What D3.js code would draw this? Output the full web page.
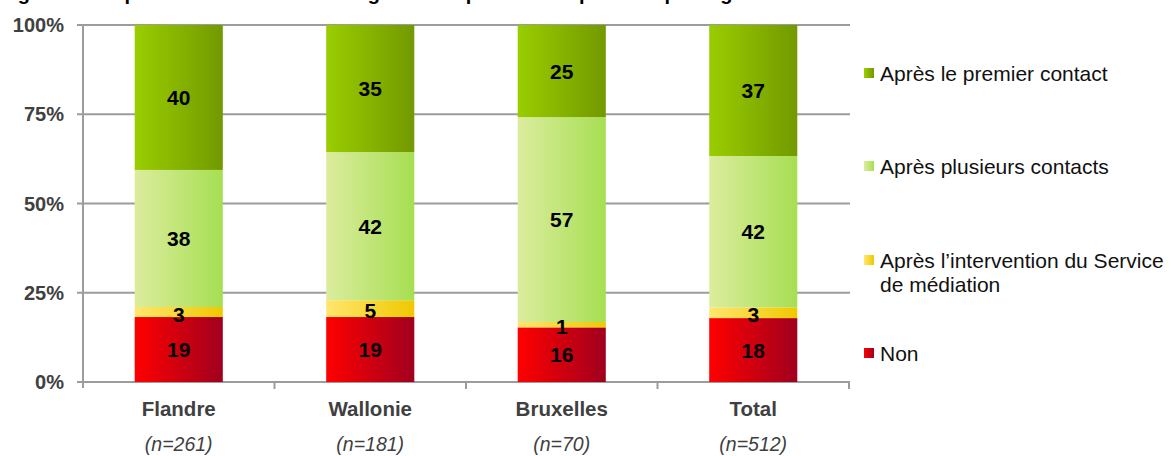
<!DOCTYPE html>
<html>
<head>
<meta charset="utf-8">
<script src="https://cdn.jsdelivr.net/npm/d3@7/dist/d3.min.js"></script>
<style>
  html, body { margin: 0; padding: 0; background: #fff; }
  svg { display: block; font-family: "Liberation Sans", Arial, sans-serif; }
</style>
</head>
<body>
<svg id="chart" width="1171" height="456"></svg>
<script>
// ---- data ----
const categories = ["Flandre", "Wallonie", "Bruxelles", "Total"];
const sampleSizes = ["(n=261)", "(n=181)", "(n=70)", "(n=512)"];
const seriesNames = ["Non", "Après l’intervention du Service de médiation", "Après plusieurs contacts", "Après le premier contact"];
// segment heights (%), bottom to top
const nonValues        = [18.2, 18.2, 15.3, 17.9];
const mediationValues  = [2.8, 4.7, 1.5, 3.0];
const plusieursValues  = [38.4, 41.5, 57.4, 42.4];
const premierValues    = [40.6, 35.6, 25.8, 36.7];
// data labels as printed on the chart
const nonLabels        = [19, 19, 16, 18];
const mediationLabels  = [3, 5, 1, 3];
const plusieursLabels  = [38, 42, 57, 42];
const premierLabels    = [40, 35, 25, 37];
const yTicks = [0, 25, 50, 75, 100];
const titleText = "Figure 7 : Le problème a-t-il été résolu grâce à la plainte ? Répartition par région";

const seriesValues = [nonValues, mediationValues, plusieursValues, premierValues];
const seriesLabels = [nonLabels, mediationLabels, plusieursLabels, premierLabels];
const gradStops = [
  ["#ff0000", "#a0001e"],
  ["#ffe66e", "#f0c800"],
  ["#dcec9e", "#a6df52"],
  ["#9acd00", "#729900"]
];

const svg = d3.select("#chart");
const defs = svg.append("defs");
gradStops.forEach((g, i) => {
  const lg = defs.append("linearGradient").attr("id", "grad" + i)
    .attr("x1", "0%").attr("x2", "100%").attr("y1", "0%").attr("y2", "0%");
  lg.append("stop").attr("offset", "0%").attr("stop-color", g[0]);
  lg.append("stop").attr("offset", "100%").attr("stop-color", g[1]);
});

const x = d3.scaleBand().domain(categories).range([83, 849]).paddingInner(0.54).paddingOuter(0.27);
const y = d3.scaleLinear().domain([0, 100]).range([382, 25]);

// title (clipped at top as in the original)
svg.append("text").attr("x", 0).attr("y", 0)
  .attr("font-size", 20).attr("font-weight", "bold").attr("fill", "#000")
  .text(titleText);

// gridlines
svg.append("g").selectAll("line").data(yTicks).join("line")
  .attr("x1", 77).attr("x2", 850)
  .attr("y1", d => y(d)).attr("y2", d => y(d))
  .attr("stroke", "#9c9c9c").attr("stroke-width", 2);

// y axis line
svg.append("line").attr("x1", 83).attr("x2", 83).attr("y1", y(100)).attr("y2", y(0) + 6)
  .attr("stroke", "#9c9c9c").attr("stroke-width", 2);

// category boundary ticks
const step = x.step();
const boundaries = categories.map((c, i) => x(c) - x.paddingInner() * step / 2 + step).slice(0, -1);
boundaries.push(849);
svg.append("g").selectAll("line").data(boundaries).join("line")
  .attr("x1", d => d).attr("x2", d => d).attr("y1", y(0)).attr("y2", y(0) + 7)
  .attr("stroke", "#9c9c9c").attr("stroke-width", 2);

// y tick labels
svg.append("g").selectAll("text").data(yTicks).join("text")
  .attr("x", 64).attr("y", d => y(d)).attr("dy", "0.35em")
  .attr("text-anchor", "end").attr("font-size", 20).attr("font-weight", "bold")
  .attr("fill", "#404040").text(d => d + "%");

// stacked data
const rows = categories.map((c, ci) => {
  let acc = 0;
  return seriesValues.map((vals, si) => {
    const seg = { cat: c, si, y0: acc, y1: acc + vals[ci], label: seriesLabels[si][ci] };
    acc += vals[ci];
    return seg;
  });
}).flat();

svg.append("g").selectAll("rect").data(rows).join("rect")
  .attr("x", d => x(d.cat)).attr("width", x.bandwidth())
  .attr("y", d => y(d.y1)).attr("height", d => y(d.y0) - y(d.y1))
  .attr("fill", d => `url(#grad${d.si})`);

svg.append("g").selectAll("text").data(rows).join("text")
  .attr("x", d => x(d.cat) + x.bandwidth() / 2)
  .attr("y", d => y((d.y0 + d.y1) / 2) + (d.si === 1 ? 2 : 0)).attr("dy", "0.36em")
  .attr("text-anchor", "middle").attr("font-size", 21).attr("font-weight", "bold")
  .attr("fill", "#000").text(d => d.label);

// category labels
svg.append("g").selectAll("text").data(categories).join("text")
  .attr("x", d => x(d) + x.bandwidth() / 2).attr("y", 416)
  .attr("text-anchor", "middle").attr("font-size", 20.5).attr("font-weight", "bold")
  .attr("fill", "#404040").text(d => d);
svg.append("g").selectAll("text").data(sampleSizes).join("text")
  .attr("x", (d, i) => x(categories[i]) + x.bandwidth() / 2).attr("y", 451)
  .attr("text-anchor", "middle").attr("font-size", 19.5).attr("font-style", "italic")
  .attr("fill", "#404040").text(d => d);

// legend (top to bottom: reverse of stacking)
const legendRows = [
  { si: 3, lines: ["Après le premier contact"], yc: 74 },
  { si: 2, lines: ["Après plusieurs contacts"], yc: 167 },
  { si: 1, lines: ["Après l’intervention du Service", "de médiation"], yc: 261 },
  { si: 0, lines: ["Non"], yc: 354 }
];
const lg = svg.append("g").selectAll("g").data(legendRows).join("g");
lg.append("rect").attr("x", 864).attr("y", d => d.yc - 6).attr("width", 10).attr("height", 10)
  .attr("fill", d => `url(#grad${d.si})`);
lg.each(function(d) {
  const t = d3.select(this).append("text").attr("font-size", 21).attr("fill", "#111");
  d.lines.forEach((ln, k) => {
    t.append("tspan").attr("x", 880).attr("y", d.yc + 7 + k * 24).text(ln);
  });
});
</script>
</body>
</html>
